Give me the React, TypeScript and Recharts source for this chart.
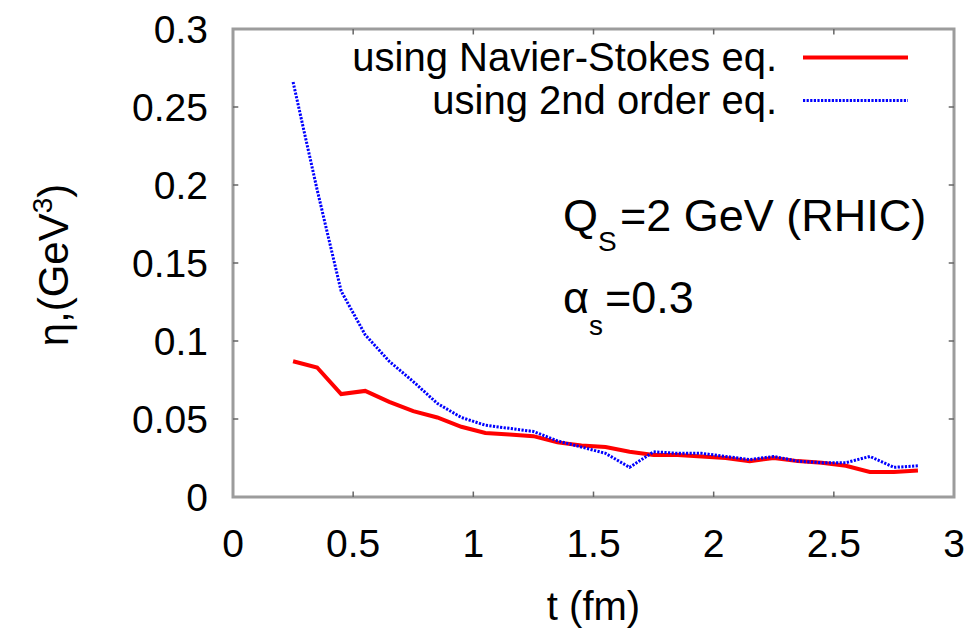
import React from "react";
import { LineChart, Line, XAxis, YAxis, Legend, ReferenceArea, ReferenceLine, Label } from "recharts";

// time grid (fm) and shear viscosity curves
const times = [
  0.25, 0.35, 0.45, 0.55, 0.65, 0.75, 0.85, 0.95, 1.05, 1.15, 1.25, 1.35, 1.45, 1.55,
  1.65, 1.75, 1.85, 1.95, 2.05, 2.15, 2.25, 2.35, 2.45, 2.55, 2.65, 2.75, 2.85,
];
const navierStokes = [
  0.087, 0.083, 0.066, 0.068, 0.061, 0.055, 0.051, 0.045, 0.041, 0.04, 0.039, 0.035, 0.033, 0.032,
  0.029, 0.027, 0.027, 0.026, 0.025, 0.023, 0.025, 0.023, 0.022, 0.02, 0.016, 0.016, 0.017,
];
const secondOrder = [
  0.266, 0.197, 0.132, 0.104, 0.087, 0.074, 0.06, 0.051, 0.046, 0.044, 0.042, 0.036, 0.032, 0.028,
  0.019, 0.029, 0.028, 0.028, 0.026, 0.024, 0.026, 0.023, 0.022, 0.022, 0.026, 0.019, 0.02,
];
const xTicks = [0, 0.5, 1, 1.5, 2, 2.5, 3];
const yTicks = [0, 0.05, 0.1, 0.15, 0.2, 0.25, 0.3];

const data = times.map((t, i) => ({ t, ns: navierStokes[i], second: secondOrder[i] }));

const FONT = "'Liberation Sans', Arial, Helvetica, sans-serif";
const FRAME = "#9c9c9c";
const TICK = "#666";

const seriesOrder = ["ns", "second"];
const lineStyles: Record<string, { width: number; dash?: string }> = {
  ns: { width: 4 },
  second: { width: 3, dash: "2.2 1.4" },
};

// legend keeps plotting order, text right-aligned with the sample on the right
const LegendBox = (props: any) => {
  const items = [...(props.payload || [])].sort(
    (a: any, b: any) => seriesOrder.indexOf(a.dataKey) - seriesOrder.indexOf(b.dataKey)
  );
  return (
    <div style={{ fontFamily: FONT, fontSize: 40, color: "#000" }}>
      {items.map((entry: any) => {
        const st = lineStyles[entry.dataKey] || { width: 2 };
        return (
          <div
            key={entry.value}
            style={{ display: "flex", justifyContent: "flex-end", alignItems: "center", height: 43 }}
          >
            <span style={{ lineHeight: "43px", whiteSpace: "nowrap" }}>{entry.value}</span>
            <svg width={135} height={43} style={{ display: "block" }}>
              <line
                x1={26}
                x2={131}
                y1={21.5}
                y2={21.5}
                stroke={entry.color}
                strokeWidth={st.width}
                strokeDasharray={st.dash}
              />
            </svg>
          </div>
        );
      })}
    </div>
  );
};

const tickStyle = { fontSize: 39, fill: "#000", fontFamily: FONT };

export default function App() {
  return (
    <div style={{ position: "absolute", left: 0, top: 0, width: 978, height: 629, background: "#fff" }}>
      <LineChart width={978} height={629} data={data} margin={{ top: 29, right: 24, left: 0, bottom: 0 }}>
        <XAxis
          type="number"
          dataKey="t"
          domain={[0, 3]}
          ticks={xTicks}
          interval={0}
          height={132}
          axisLine={false}
          tickLine={false}
          tickSize={0}
          tickMargin={32}
          tick={tickStyle}
        >
          <Label value="t (fm)" position="insideBottom" offset={9} style={{ ...tickStyle, fontSize: 40 }} />
        </XAxis>
        <YAxis
          type="number"
          domain={[0, 0.3]}
          ticks={yTicks}
          interval={0}
          width={233}
          axisLine={false}
          tickLine={false}
          tickSize={0}
          tickMargin={25}
          tick={tickStyle}
        />
        <ReferenceArea x1={0} x2={3} y1={0} y2={0.3} fill="none" stroke={FRAME} strokeWidth={3} ifOverflow="visible" />
        {xTicks.slice(1, -1).map((v) => (
          <ReferenceLine key={`xb${v}`} segment={[{ x: v, y: 0 }, { x: v, y: 0.0035 }]} stroke={TICK} strokeWidth={1.5} />
        ))}
        {xTicks.slice(1, -1).map((v) => (
          <ReferenceLine key={`xt${v}`} segment={[{ x: v, y: 0.3 }, { x: v, y: 0.2965 }]} stroke={TICK} strokeWidth={1.5} />
        ))}
        {yTicks.slice(1, -1).map((v) => (
          <ReferenceLine key={`yl${v}`} segment={[{ x: 0, y: v }, { x: 0.022, y: v }]} stroke={TICK} strokeWidth={1.5} />
        ))}
        {yTicks.slice(1, -1).map((v) => (
          <ReferenceLine key={`yr${v}`} segment={[{ x: 3, y: v }, { x: 2.978, y: v }]} stroke={TICK} strokeWidth={1.5} />
        ))}
        <Line
          type="linear"
          dataKey="ns"
          name="using Navier-Stokes eq."
          stroke="#ff0000"
          strokeWidth={lineStyles.ns.width}
          dot={false}
          isAnimationActive={false}
        />
        <Line
          type="linear"
          dataKey="second"
          name="using 2nd order eq."
          stroke="#0000ff"
          strokeWidth={lineStyles.second.width}
          strokeDasharray={lineStyles.second.dash}
          dot={false}
          isAnimationActive={false}
        />
        <Legend
          layout="vertical"
          align="center"
          verticalAlign="middle"
          content={LegendBox}
          wrapperStyle={{ left: 300, top: 36, width: 612 }}
        />
      </LineChart>
      <svg
        width={978}
        height={629}
        style={{ position: "absolute", left: 0, top: 0, pointerEvents: "none" }}
        fontFamily={FONT}
      >
        <text x={68} y={265} transform="rotate(-90 68 265)" textAnchor="middle" fontSize={42} fill="#000">
          η,(GeV<tspan fontSize={28} dy={-16}>3</tspan>
          <tspan dy={16}>)</tspan>
        </text>
        <text x={563} y={231} fontSize={45} fill="#000">
          Q<tspan fontSize={28} dy={20}>S</tspan>
          <tspan dy={-20} x={620}>=2 GeV (RHIC)</tspan>
        </text>
        <text x={563} y={313} fontSize={45} fill="#000">
          α<tspan fontSize={28} dy={22}>s</tspan>
          <tspan dy={-22} x={605}>=0.3</tspan>
        </text>
      </svg>
    </div>
  );
}
